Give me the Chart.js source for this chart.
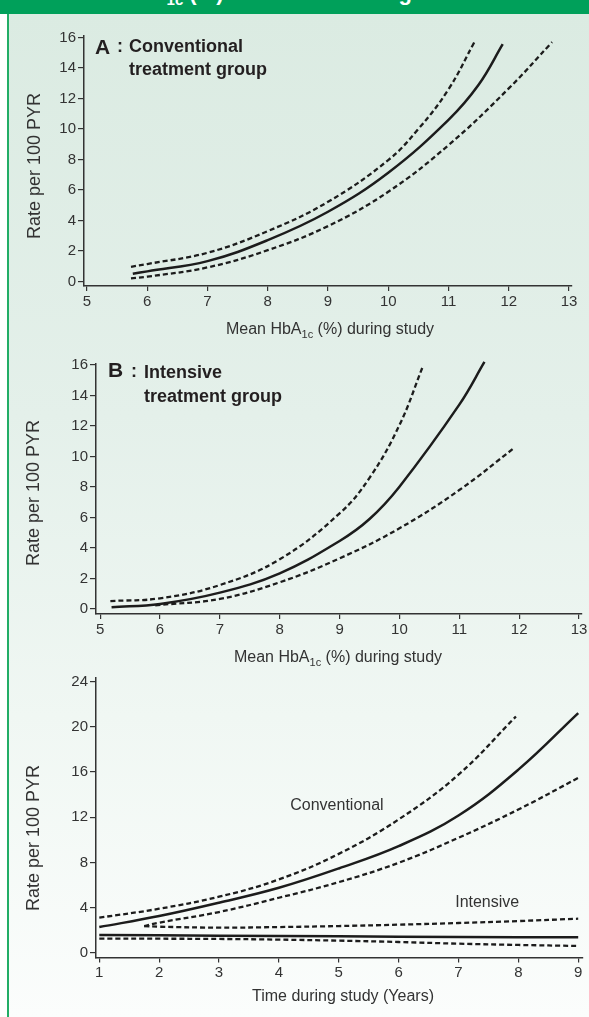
<!DOCTYPE html>
<html>
<head>
<meta charset="utf-8">
<script src="https://cdn.jsdelivr.net/npm/chart.js@4.4.1/dist/chart.umd.min.js"></script>
<style>
  body { margin: 0; width: 589px; height: 1017px; overflow: hidden; background: #fff; position: relative;
         font-family: "Liberation Sans", Arial, sans-serif; color: #333; }
  #fondo { position: absolute; left: 9px; top: 14px; right: 0; bottom: 0;
           background: linear-gradient(to bottom, #dbebe2 0%, #e4f0ea 40%, #f0f7f3 70%, #fbfdfc 100%); }
  #borde { position: absolute; left: 7px; top: 14px; width: 2px; bottom: 0; background: #22ad66; }
  #banda { position: absolute; left: 0; top: 0; width: 589px; height: 14px; background: #00a05a; overflow: hidden; }
  #banda span { position: absolute; left: 59px; top: -18px; font: bold 22px/22px "Liberation Sans", Arial, sans-serif;
                color: #fff; white-space: nowrap; }
  canvas { position: absolute; left: 0; }
  .t { position: absolute; white-space: nowrap; }
  .letra { font: bold 21px/21px "Liberation Sans", Arial, sans-serif; color: #231f20; }
  .dos { font: bold 18px/18px "Liberation Sans", Arial, sans-serif; color: #231f20; }
  .grupo { font: bold 18px/23px "Liberation Sans", Arial, sans-serif; color: #231f20; }
  .ejeX { font: 16px/16px "Liberation Sans", Arial, sans-serif; color: #333; width: 400px; text-align: center; }
  .ejeX sub { font-size: 11px; vertical-align: -4px; line-height: 0; }
  .ejeY { font: 18px/20px "Liberation Sans", Arial, sans-serif; color: #333; width: 200px; height: 20px;
          text-align: center; transform: rotate(-90deg); }
  .nota { font: 16px/16px "Liberation Sans", Arial, sans-serif; color: #333; transform: translateX(-50%); }
</style>
</head>
<body>
<div id="fondo"></div>
<div id="borde"></div>
<div id="banda"><span>Mean HbA<sub style="font-size:15px;vertical-align:-5px;line-height:0">1c</sub> (%) and risk of change</span></div>

<canvas id="panelA" width="589" height="320" style="top:0px"></canvas>
<canvas id="panelB" width="589" height="320" style="top:330px"></canvas>
<canvas id="panelC" width="589" height="330" style="top:660px"></canvas>

<div class="t letra" style="left:95px;top:36px">A</div>
<div class="t dos" style="left:117px;top:37px">:</div>
<div class="t grupo" style="left:129px;top:35px">Conventional<br>treatment group</div>

<div class="t letra" style="left:108px;top:359px">B</div>
<div class="t dos" style="left:131px;top:362px">:</div>
<div class="t grupo" style="left:144px;top:360px;line-height:24px">Intensive<br>treatment group</div>

<div class="t ejeX" style="left:130px;top:321px">Mean HbA<sub>1c</sub> (%) during study</div>
<div class="t ejeX" style="left:138px;top:649px">Mean HbA<sub>1c</sub> (%) during study</div>
<div class="t ejeX" style="left:143px;top:988px">Time during study (Years)</div>

<div class="t ejeY" style="left:-66px;top:156px">Rate per 100 PYR</div>
<div class="t ejeY" style="left:-67px;top:483px">Rate per 100 PYR</div>
<div class="t ejeY" style="left:-67px;top:828px">Rate per 100 PYR</div>

<div class="t nota" id="notaConv">Conventional</div>
<div class="t nota" id="notaInt">Intensive</div>

<script>
  // Ticks
  const ticksHbA = [5, 6, 7, 8, 9, 10, 11, 12, 13];
  const ticksTasaAB = [0, 2, 4, 6, 8, 10, 12, 14, 16];
  const ticksAnios = [1, 2, 3, 4, 5, 6, 7, 8, 9];
  const ticksTasaC = [0, 4, 8, 12, 16, 20, 24];

  // A: grupo convencional (curva central y límites)
  const aXmedia = [5.76, 6, 7, 8, 9, 10, 11, 11.5, 11.9];
  const aYmedia = [0.50, 0.66, 1.33, 2.71, 4.57, 7.13, 10.6, 12.9, 15.56];
  const aXsup = [5.73, 6, 7, 8, 9, 10, 10.5, 11, 11.43];
  const aYsup = [0.96, 1.14, 1.88, 3.3, 5.22, 7.96, 10.0, 12.6, 15.7];
  const aXinf = [5.73, 6, 7, 8, 9, 10, 11, 12, 12.72];
  const aYinf = [0.2, 0.31, 0.92, 2.05, 3.63, 5.88, 8.94, 12.66, 15.7];

  // B: grupo intensivo
  const bXmedia = [5.19, 6, 7, 8, 9, 9.5, 10, 11, 11.42];
  const bYmedia = [0.11, 0.33, 1.07, 2.34, 4.46, 5.9, 8.02, 13.4, 16.2];
  const bXsup = [5.17, 6, 7, 8, 9, 9.5, 10, 10.39];
  const bYsup = [0.52, 0.7, 1.57, 3.26, 6.27, 8.6, 12.06, 15.9];
  const bXinf = [5.92, 7, 8, 9, 10, 11, 11.93];
  const bYinf = [0.24, 0.66, 1.75, 3.32, 5.29, 7.8, 10.6];

  // C: tasa en el tiempo
  const cXconv = [1, 2, 3, 4, 5, 6, 7, 8, 9];
  const cYconv = [2.29, 3.26, 4.44, 5.76, 7.47, 9.44, 12.15, 16.2, 21.2];
  const cXconvSup = [1, 2, 3, 4, 5, 6, 7, 7.96];
  const cYconvSup = [3.12, 3.91, 4.97, 6.5, 8.76, 11.8, 15.76, 20.9];
  const cXconvInf = [1.75, 2, 3, 4, 5, 6, 7, 8, 9];
  const cYconvInf = [2.38, 2.68, 3.62, 4.88, 6.26, 7.97, 10.18, 12.68, 15.47];
  const cXint = [1, 3, 5, 7, 9];
  const cYint = [1.59, 1.53, 1.47, 1.41, 1.38];
  const cXintSup = [1.75, 2, 3, 4, 5, 6, 7, 8, 9];
  const cYintSup = [2.38, 2.32, 2.24, 2.29, 2.38, 2.5, 2.65, 2.82, 3.03];
  const cXintInf = [1, 2, 3, 4, 5, 6, 7, 8, 9];
  const cYintInf = [1.26, 1.26, 1.24, 1.18, 1.09, 0.97, 0.82, 0.71, 0.62];

  // Etiquetas dentro del panel C (en unidades de datos)
  const notas = [
    { id: 'notaConv', x: 4.97, y: 13.1 },
    { id: 'notaInt', x: 7.48, y: 4.56 },
  ];

  const fuenteTicks = { family: 'Liberation Sans', size: 15 };

  function dibujarPanel(id, lineas, area, rangoX, rangoY, ticksX, ticksY, alDibujar) {
    const canvas = document.getElementById(id);
    const alto = canvas.height;
    return new Chart(canvas, {
      type: 'line',
      data: {
        datasets: lineas.map((l) => ({
          data: l.x.map((x, i) => ({ x, y: l.y[i] })),
          borderColor: '#1c1c1c',
          borderWidth: l.dash ? 2.3 : 2.5,
          borderDash: l.dash ? [5, 3] : [],
          pointRadius: 0,
          tension: 0.4,
          fill: false,
          clip: false,
        })),
      },
      options: {
        responsive: false,
        animation: false,
        events: [],
        layout: { padding: { left: 0, top: area.top, right: 589 - area.right, bottom: 0 } },
        plugins: { legend: { display: false }, tooltip: { enabled: false } },
        scales: {
          x: {
            type: 'linear', min: rangoX[0], max: rangoX[1],
            afterBuildTicks: (s) => { s.ticks = ticksX.map((v) => ({ value: v })); },
            afterFit: (s) => { s.height = alto - area.bottom; },
            grid: { drawOnChartArea: false, tickLength: 5, color: '#333', lineWidth: 1.2 },
            border: { color: '#333', width: 1.5 },
            ticks: { padding: 1.5, color: '#333', font: fuenteTicks, autoSkip: false, maxRotation: 0 },
          },
          y: {
            type: 'linear', min: rangoY[0], max: rangoY[1],
            afterBuildTicks: (s) => { s.ticks = ticksY.map((v) => ({ value: v })); },
            afterFit: (s) => { s.width = area.left; },
            grid: { drawOnChartArea: false, tickLength: 6, color: '#333', lineWidth: 1.2 },
            border: { color: '#333', width: 1.5 },
            ticks: { padding: 2, color: '#333', font: fuenteTicks, autoSkip: false },
          },
        },
      },
      plugins: alDibujar ? [{ id: 'notas', afterRender: alDibujar }] : [],
    });
  }

  dibujarPanel('panelA', [
    { x: aXsup, y: aYsup, dash: true },
    { x: aXmedia, y: aYmedia },
    { x: aXinf, y: aYinf, dash: true },
  ], { left: 84, right: 572, top: 36, bottom: 286 }, [4.95, 13.05], [-0.3, 16.1], ticksHbA, ticksTasaAB);

  dibujarPanel('panelB', [
    { x: bXsup, y: bYsup, dash: true },
    { x: bXmedia, y: bYmedia },
    { x: bXinf, y: bYinf, dash: true },
  ], { left: 96, right: 582, top: 33.5, bottom: 284 }, [4.93, 13.05], [-0.33, 16.1], ticksHbA, ticksTasaAB);

  dibujarPanel('panelC', [
    { x: cXconvSup, y: cYconvSup, dash: true },
    { x: cXconv, y: cYconv },
    { x: cXconvInf, y: cYconvInf, dash: true },
    { x: cXintSup, y: cYintSup, dash: true },
    { x: cXint, y: cYint },
    { x: cXintInf, y: cYintInf, dash: true },
  ], { left: 96, right: 583, top: 18, bottom: 297.5 }, [0.945, 9.08], [-0.4, 24.3], ticksAnios, ticksTasaC,
  (chart) => {
    const arriba = chart.canvas.offsetTop;
    notas.forEach((n) => {
      const el = document.getElementById(n.id);
      el.style.left = chart.scales.x.getPixelForValue(n.x) + 'px';
      el.style.top = (arriba + chart.scales.y.getPixelForValue(n.y) - 7.8) + 'px';
    });
  });
</script>
</body>
</html>
